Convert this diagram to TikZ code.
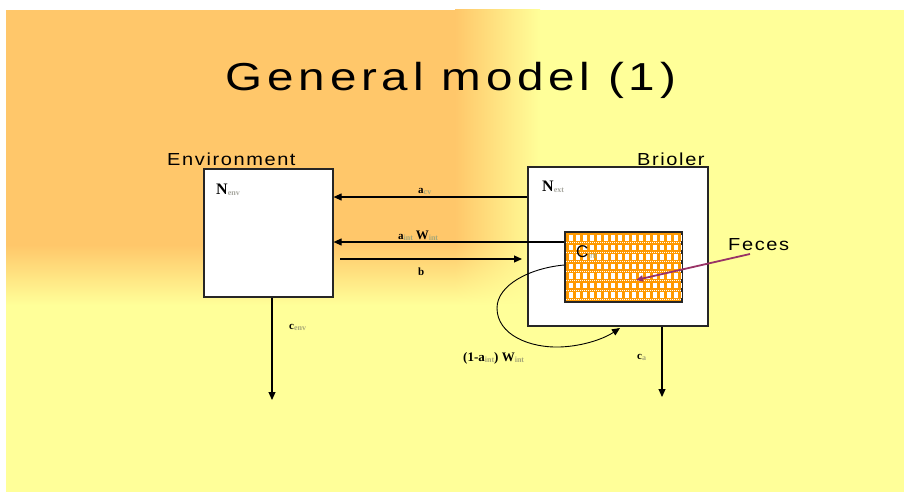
\documentclass[tikz,border=0pt]{standalone}
\usepackage{fontspec}
\setmainfont{Liberation Serif}
\newfontfamily\sansf[LetterSpace=8]{Liberation Sans}
\newfontfamily\titlef[LetterSpace=10]{Liberation Sans}
\newfontfamily\plainsans{Liberation Sans}
\usetikzlibrary{arrows.meta,shadings}
\definecolor{orangebg}{HTML}{FFC76A}
\definecolor{midbg}{HTML}{FFD49A}
\definecolor{yellowbg}{HTML}{FFFF99}
\definecolor{chk}{HTML}{FF9900}
\definecolor{subgray}{HTML}{A8A8A0}
\definecolor{subolive}{HTML}{A8A878}
\definecolor{feces}{HTML}{993366}
\newcommand{\subtxt}[2]{\raisebox{-1pt}{\fontsize{8}{8}\selectfont\color{#1}#2}}
\begin{document}
\begin{tikzpicture}[x=1pt,y=-1pt,
  boxst/.style={draw=black!85,line width=1.2pt,fill=white,inner sep=0pt,minimum width=#1},
  arr/.style={line width=1.1pt,-{Triangle[length=8pt,width=7pt]}},
  lab/.style={inner sep=0pt,xscale=1.15,font=\fontsize{17.4}{18}\selectfont\sansf},
  mlab/.style={inner sep=0pt,font=\fontsize{11}{12}\selectfont\bfseries},
  nlab/.style={inner sep=0pt,font=\fontsize{16}{16}\selectfont\bfseries}]
\useasboundingbox (0,0) rectangle (904,495);
\fill[white] (0,0) rectangle (904,495);
% background
\fill[yellowbg] (6,10) rectangle (904,492);
\fill[orangebg] (6,10) rectangle (455,245);
\shade[left color=orangebg,middle color=midbg,right color=yellowbg] (455,10) rectangle (540,245);
\shade[top color=orangebg,middle color=midbg,bottom color=yellowbg] (6,245) rectangle (455,305);
\shade[upper left=orangebg,upper right=yellowbg,lower left=yellowbg,lower right=yellowbg] (455,245) rectangle (540,305);
% title
\node[inner sep=0pt,anchor=base,xscale=1.22,font=\fontsize{39}{39}\selectfont\titlef] (title) at (451,90) {General model (1)};
% boxes
\node[boxst=129pt,minimum height=128pt] (env) at (268.5,233) {};
\node[boxst=180pt,minimum height=159pt] (ext) at (618,246.5) {};
\node[draw=black!85,line width=1.2pt,fill=chk,inner sep=0pt,minimum width=117pt,minimum height=70pt] (int) at (623.5,267) {};
\begin{scope}
\clip (int.south west) rectangle (int.north east);
\foreach \i in {0,...,17} {
  \foreach \j in {0,...,7} {
    \fill[white] ({569+7*\i},{235+9.5*\j}) rectangle ++(3.8,5.5);
  }
}
\foreach \j in {0,...,7} {
  \draw[white,line width=0.8pt,dash pattern=on 1pt off 1pt] (566,{242.5+9.5*\j}) -- (682,{242.5+9.5*\j});
}
\end{scope}
\draw[black!85,line width=1.2pt] (int.south west) rectangle (int.north east);
% labels of boxes
\node[lab,anchor=base west] (envlab) at (167,165) {Environment};
\node[lab,anchor=base west] (extlab) at (637,165) {Brioler};
\node[lab,anchor=base west] (feclab) at (728,250) {Feces};
\node[nlab,anchor=base west] (nenv) at (216,194) {N\subtxt{subgray}{env}};
\node[nlab,anchor=base west] (next) at (542,191) {N\subtxt{subgray}{ext}};
\node[inner sep=0pt,anchor=base west,font=\fontsize{17}{17}\selectfont\plainsans] (cint) at (576,257) {C\subtxt{subolive}{int}};
% connectors
\draw[arr] (ext.west |- 0,197) -- (env.east |- 0,197);
\draw[arr] (int.west |- 0,242) -- (env.east |- 0,242);
\coordinate (bstart) at (340,259);
\draw[arr] (bstart) -- (522,259);
\draw[arr] (env.south -| 272,0) -- (272,400) coordinate (cenvend);
\draw[arr] (ext.south -| 662,0) -- (662,397) coordinate (caend);
\coordinate (loopend) at (620,328);
\draw[arr,line width=0.9pt] (int.west |- 0,265) .. controls (530,268) and (497,285) .. (497,308)
   .. controls (497,335) and (530,348) .. (560,347)
   .. controls (585,346) and (605,338) .. (loopend);
\coordinate (fecstart) at (750,254);
\draw[feces,line width=1.8pt,-{Triangle[length=7pt,width=6pt]}] (fecstart) -- (636,280);
% connector labels
\node[mlab,anchor=base west] (lacv) at (418,193) {a\subtxt{subolive}{cv}};
\node[mlab,anchor=base west] (laint) at (398,239) {a\subtxt{subolive}{int} \fontsize{13}{13}\selectfont W\subtxt{subolive}{int}};
\node[mlab,anchor=base west] (lb) at (418,275) {b};
\node[mlab,anchor=base west] (lcenv) at (289,329) {c\subtxt{subolive}{env}};
\node[mlab,anchor=base west] (lca) at (637,359) {c\subtxt{subolive}{a}};
\node[mlab,anchor=base west] (lloop) at (463,361) {\fontsize{13}{13}\selectfont (1-a\subtxt{subolive}{int}) W\subtxt{subolive}{int}};
\end{tikzpicture}
\end{document}
